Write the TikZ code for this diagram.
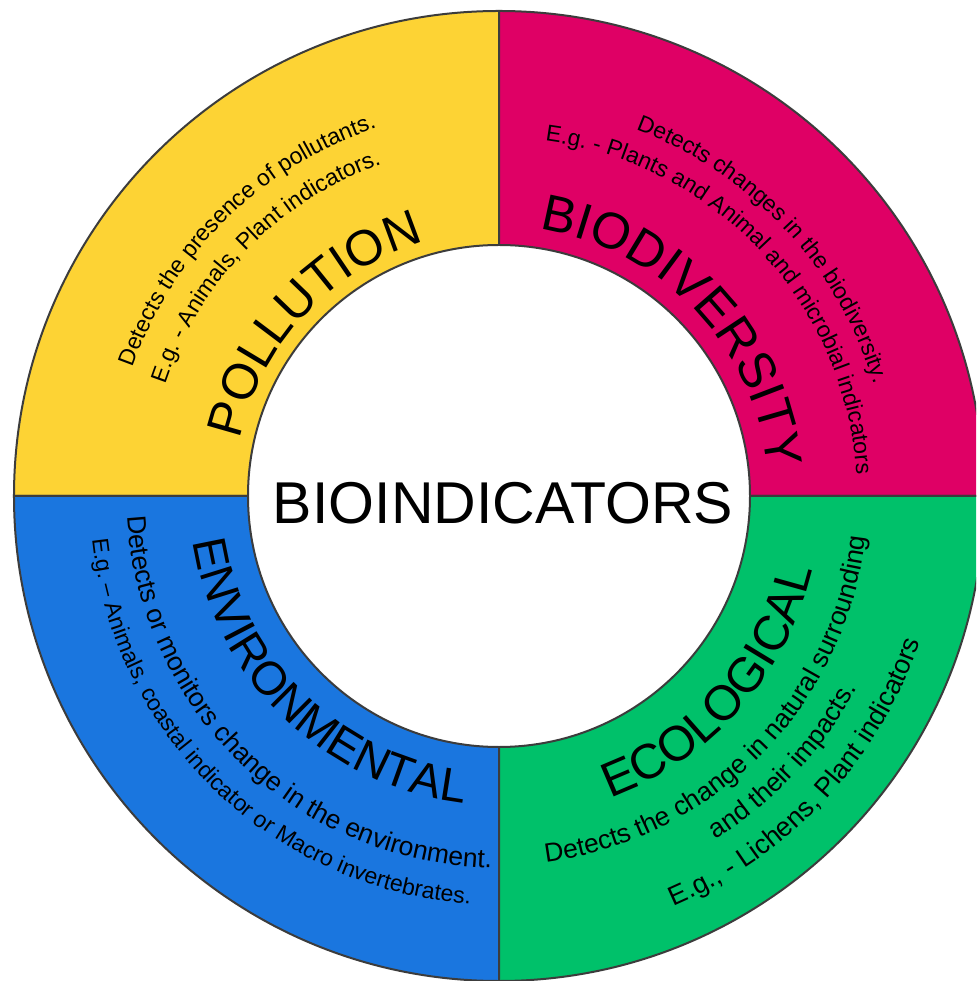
\documentclass[tikz,border=0pt]{standalone}
\usepackage{fontspec}
\setmainfont{Liberation Sans}
\usetikzlibrary{decorations.text}
\definecolor{PollYellow}{HTML}{FDD334}
\definecolor{BioPink}{HTML}{DF0065}
\definecolor{EnvBlue}{HTML}{1A76DF}
\definecolor{EcoGreen}{HTML}{00C16A}
\definecolor{RingEdge}{HTML}{3C3C3C}

\begin{document}
\begin{tikzpicture}[
  sector/.style={draw=RingEdge, line width=2pt, line join=round},
  arctext/.style 2 args={decorate, decoration={text along path, text align=center, text={|\fontsize{#1}{#1}\selectfont|#2}}}
]
\clip (-499pt,-485pt) rectangle (477pt,496pt);
\fill[white] (-499pt,-485pt) rectangle (477pt,496pt);

% four quadrants of the ring
\foreach \s/\col in {90/PollYellow, 0/BioPink, 180/EnvBlue, 270/EcoGreen}
  \filldraw[sector, fill=\col] ({\s+90}:251pt) arc[start angle=\s+90, end angle=\s, radius=251pt]
    -- (\s:485pt) arc[start angle=\s, end angle=\s+90, radius=485pt] -- cycle;

\node[font=\fontsize{59}{59}\selectfont, inner sep=0pt] (hub) at (4pt,-7pt) {BIOINDICATORS};

% upper half: text runs clockwise, letters point outwards
\path[arctext={50}{POLLUTION}] (207:265pt) arc[start angle=207, end angle=67, radius=265pt];
\path[arctext={23}{E.g. - Animals, Plant indicators.}] (205.5:352pt) arc[start angle=205.5, end angle=65.5, radius=352pt];
\path[arctext={23}{Detects the presence of pollutants.}] (204.5:388pt) arc[start angle=204.5, end angle=64.5, radius=388pt];

\path[arctext={51}{BIODIVERSITY}] (113.5:270pt) arc[start angle=113.5, end angle=-26.5, radius=270pt];
\path[arctext={23}{E.g. - Plants and Animal and microbial indicators}] (113:358pt) arc[start angle=113, end angle=-27, radius=358pt];
\path[arctext={23}{Detects changes in the biodiversity.}] (113:391pt) arc[start angle=113, end angle=-27, radius=391pt];

% lower half: text runs anticlockwise, letters point inwards
\path[arctext={47}{ENVIRONMENTAL}] (156:309pt) arc[start angle=156, end angle=296, radius=309pt];
\path[arctext={26.5}{Detects or monitors change in the environment.}] (156:372pt) arc[start angle=156, end angle=296, radius=372pt];
\path[arctext={23}{E.g. – Animals, coastal indicator or Macro invertebrates.}] (156:409pt) arc[start angle=156, end angle=296, radius=409pt];

\path[arctext={49}{ECOLOGICAL}] (248.5:322pt) arc[start angle=248.5, end angle=388.5, radius=322pt];
\path[arctext={26.5}{Detects the change in natural surrounding}] (245.5:369pt) arc[start angle=245.5, end angle=385.5, radius=369pt];
\path[arctext={26.5}{and their impacts.}] (247:406pt) arc[start angle=247, end angle=387, radius=406pt];
\path[arctext={27}{E.g., - Lichens, Plant indicators}] (247:446pt) arc[start angle=247, end angle=387, radius=446pt];
\end{tikzpicture}
\end{document}
